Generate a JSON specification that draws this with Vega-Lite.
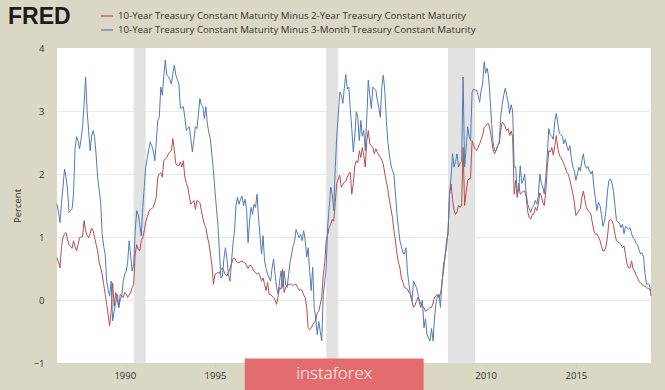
{
"$schema": "https://vega.github.io/schema/vega-lite/v6.json",
"width": 594, "height": 315,
"autosize": {"type": "none"},
"padding": {"left": 57, "top": 48, "right": 14, "bottom": 27},
"background": "#dad7c5",
"config": {"view": {"fill": "white", "stroke": null}, "font": "Open Sans"},
"title": {"text": "FRED", "anchor": "start", "frame": "group", "dx": -49, "offset": -20, "font": "Liberation Sans", "fontSize": 23, "fontWeight": "bold", "color": "#1c1c1c"},
"datasets": {
"rates": [
{"d":"1986-04","r":0.67,"b":1.52},{"d":"1986-05","r":0.60,"b":1.40},{"d":"1986-06","r":0.51,"b":1.23},{"d":"1986-07","r":0.85,"b":1.55},{"d":"1986-08","r":0.99,"b":1.80},{"d":"1986-09","r":1.05,"b":2.08},{"d":"1986-10","r":1.07,"b":1.95},{"d":"1986-11","r":0.95,"b":1.75},{"d":"1986-12","r":0.88,"b":1.39},
{"d":"1987-01","r":0.85,"b":1.42},{"d":"1987-02","r":0.82,"b":1.45},{"d":"1987-03","r":0.94,"b":1.68},{"d":"1987-04","r":0.85,"b":2.40},{"d":"1987-05","r":0.78,"b":2.59},{"d":"1987-06","r":0.88,"b":2.53},{"d":"1987-07","r":0.99,"b":2.40},{"d":"1987-08","r":1.00,"b":2.55},{"d":"1987-09","r":1.01,"b":2.75},{"d":"1987-10","r":1.26,"b":3.10},{"d":"1987-11","r":1.10,"b":3.54},{"d":"1987-12","r":1.03,"b":3.01},
{"d":"1988-01","r":0.99,"b":2.69},{"d":"1988-02","r":1.05,"b":2.37},{"d":"1988-03","r":1.14,"b":2.60},{"d":"1988-04","r":1.10,"b":2.69},{"d":"1988-05","r":0.99,"b":2.59},{"d":"1988-06","r":0.88,"b":2.30},{"d":"1988-07","r":0.78,"b":1.95},{"d":"1988-08","r":0.60,"b":1.75},{"d":"1988-09","r":0.51,"b":1.55},{"d":"1988-10","r":0.41,"b":1.04},{"d":"1988-11","r":0.25,"b":0.85},{"d":"1988-12","r":0.09,"b":0.73},
{"d":"1989-01","r":-0.07,"b":0.30},{"d":"1989-02","r":-0.25,"b":0.15},{"d":"1989-03","r":-0.41,"b":0.06},{"d":"1989-04","r":-0.18,"b":0.30},{"d":"1989-05","r":0.27,"b":-0.33},{"d":"1989-06","r":-0.10,"b":-0.18},{"d":"1989-07","r":0.12,"b":-0.05},{"d":"1989-08","r":0.05,"b":0.09},{"d":"1989-09","r":-0.12,"b":-0.12},{"d":"1989-10","r":0.09,"b":0.00},{"d":"1989-11","r":0.06,"b":0.06},{"d":"1989-12","r":0.04,"b":0.30},
{"d":"1990-01","r":0.12,"b":0.41},{"d":"1990-02","r":0.10,"b":0.46},{"d":"1990-03","r":0.04,"b":0.60},{"d":"1990-04","r":0.08,"b":0.94},{"d":"1990-05","r":0.12,"b":0.70},{"d":"1990-06","r":0.20,"b":0.46},{"d":"1990-07","r":0.25,"b":0.57},{"d":"1990-08","r":0.73,"b":1.10},{"d":"1990-09","r":0.88,"b":1.42},{"d":"1990-10","r":0.80,"b":1.36},{"d":"1990-11","r":0.78,"b":1.20},{"d":"1990-12","r":0.94,"b":1.02},
{"d":"1991-01","r":0.99,"b":1.47},{"d":"1991-02","r":1.10,"b":1.80},{"d":"1991-03","r":1.23,"b":2.11},{"d":"1991-04","r":1.32,"b":2.25},{"d":"1991-05","r":1.40,"b":2.38},{"d":"1991-06","r":1.44,"b":2.51},{"d":"1991-07","r":1.45,"b":2.45},{"d":"1991-08","r":1.47,"b":2.37},{"d":"1991-09","r":1.55,"b":2.21},{"d":"1991-10","r":1.63,"b":2.50},{"d":"1991-11","r":1.95,"b":2.85},{"d":"1991-12","r":2.00,"b":2.90},
{"d":"1992-01","r":2.02,"b":3.38},{"d":"1992-02","r":1.95,"b":3.25},{"d":"1992-03","r":2.21,"b":3.55},{"d":"1992-04","r":2.24,"b":3.81},{"d":"1992-05","r":2.26,"b":3.57},{"d":"1992-06","r":2.32,"b":3.55},{"d":"1992-07","r":2.35,"b":3.50},{"d":"1992-08","r":2.37,"b":3.43},{"d":"1992-09","r":2.56,"b":3.60},{"d":"1992-10","r":2.37,"b":3.73},{"d":"1992-11","r":2.16,"b":3.57},{"d":"1992-12","r":2.14,"b":3.50},
{"d":"1993-01","r":2.13,"b":3.43},{"d":"1993-02","r":2.19,"b":3.04},{"d":"1993-03","r":2.11,"b":3.05},{"d":"1993-04","r":2.21,"b":3.07},{"d":"1993-05","r":1.95,"b":2.90},{"d":"1993-06","r":1.85,"b":2.69},{"d":"1993-07","r":1.79,"b":2.72},{"d":"1993-08","r":1.63,"b":2.75},{"d":"1993-09","r":1.52,"b":2.55},{"d":"1993-10","r":1.55,"b":2.35},{"d":"1993-11","r":1.58,"b":2.55},{"d":"1993-12","r":1.44,"b":2.75},
{"d":"1994-01","r":1.58,"b":2.72},{"d":"1994-02","r":1.56,"b":2.95},{"d":"1994-03","r":1.55,"b":3.20},{"d":"1994-04","r":1.42,"b":3.10},{"d":"1994-05","r":1.30,"b":3.07},{"d":"1994-06","r":1.20,"b":2.88},{"d":"1994-07","r":1.15,"b":3.07},{"d":"1994-08","r":1.00,"b":2.79},{"d":"1994-09","r":0.90,"b":2.65},{"d":"1994-10","r":0.73,"b":2.55},{"d":"1994-11","r":0.55,"b":2.30},{"d":"1994-12","r":0.25,"b":2.05},
{"d":"1995-01","r":0.41,"b":1.73},{"d":"1995-02","r":0.42,"b":1.45},{"d":"1995-03","r":0.44,"b":1.20},{"d":"1995-04","r":0.42,"b":0.78},{"d":"1995-05","r":0.48,"b":0.35},{"d":"1995-06","r":0.51,"b":0.38},{"d":"1995-07","r":0.46,"b":0.65},{"d":"1995-08","r":0.40,"b":0.83},{"d":"1995-09","r":0.38,"b":0.65},{"d":"1995-10","r":0.44,"b":0.41},{"d":"1995-11","r":0.50,"b":0.30},{"d":"1995-12","r":0.57,"b":0.60},
{"d":"1996-01","r":0.65,"b":0.90},{"d":"1996-02","r":0.67,"b":1.10},{"d":"1996-03","r":0.62,"b":1.50},{"d":"1996-04","r":0.60,"b":1.63},{"d":"1996-05","r":0.59,"b":1.52},{"d":"1996-06","r":0.61,"b":1.60},{"d":"1996-07","r":0.62,"b":1.65},{"d":"1996-08","r":0.60,"b":1.50},{"d":"1996-09","r":0.59,"b":1.60},{"d":"1996-10","r":0.55,"b":1.45},{"d":"1996-11","r":0.50,"b":0.91},{"d":"1996-12","r":0.55,"b":1.25},
{"d":"1997-01","r":0.55,"b":1.47},{"d":"1997-02","r":0.50,"b":1.36},{"d":"1997-03","r":0.46,"b":1.52},{"d":"1997-04","r":0.43,"b":1.47},{"d":"1997-05","r":0.41,"b":1.68},{"d":"1997-06","r":0.43,"b":1.30},{"d":"1997-07","r":0.38,"b":1.02},{"d":"1997-08","r":0.30,"b":0.73},{"d":"1997-09","r":0.35,"b":1.02},{"d":"1997-10","r":0.25,"b":0.62},{"d":"1997-11","r":0.15,"b":0.50},{"d":"1997-12","r":0.28,"b":0.41},
{"d":"1998-01","r":0.09,"b":0.35},{"d":"1998-02","r":0.09,"b":0.30},{"d":"1998-03","r":0.06,"b":0.50},{"d":"1998-04","r":0.04,"b":0.65},{"d":"1998-05","r":0.00,"b":0.41},{"d":"1998-06","r":-0.07,"b":0.20},{"d":"1998-07","r":0.05,"b":0.09},{"d":"1998-08","r":0.20,"b":0.30},{"d":"1998-09","r":0.17,"b":0.46},{"d":"1998-10","r":0.49,"b":0.20},{"d":"1998-11","r":0.12,"b":0.46},{"d":"1998-12","r":0.20,"b":0.25},
{"d":"1999-01","r":0.22,"b":0.20},{"d":"1999-02","r":0.25,"b":0.41},{"d":"1999-03","r":0.25,"b":0.60},{"d":"1999-04","r":0.25,"b":0.73},{"d":"1999-05","r":0.23,"b":0.85},{"d":"1999-06","r":0.25,"b":0.94},{"d":"1999-07","r":0.25,"b":1.12},{"d":"1999-08","r":0.20,"b":1.05},{"d":"1999-09","r":0.15,"b":0.99},{"d":"1999-10","r":0.17,"b":1.04},{"d":"1999-11","r":0.15,"b":0.94},{"d":"1999-12","r":0.08,"b":1.10},
{"d":"2000-01","r":0.04,"b":0.95},{"d":"2000-02","r":-0.12,"b":0.68},{"d":"2000-03","r":-0.44,"b":0.83},{"d":"2000-04","r":-0.47,"b":0.45},{"d":"2000-05","r":-0.45,"b":0.15},{"d":"2000-06","r":-0.39,"b":0.52},{"d":"2000-07","r":-0.36,"b":-0.12},{"d":"2000-08","r":-0.33,"b":-0.30},{"d":"2000-09","r":-0.20,"b":-0.55},{"d":"2000-10","r":-0.18,"b":-0.34},{"d":"2000-11","r":-0.07,"b":-0.50},{"d":"2000-12","r":0.05,"b":-0.65},
{"d":"2001-01","r":0.40,"b":0.09},{"d":"2001-02","r":0.60,"b":0.30},{"d":"2001-03","r":0.95,"b":0.52},{"d":"2001-04","r":1.04,"b":1.17},{"d":"2001-05","r":1.15,"b":1.47},{"d":"2001-06","r":1.20,"b":1.79},{"d":"2001-07","r":1.28,"b":1.68},{"d":"2001-08","r":1.25,"b":1.42},{"d":"2001-09","r":1.55,"b":2.10},{"d":"2001-10","r":1.85,"b":2.60},{"d":"2001-11","r":1.92,"b":2.95},{"d":"2001-12","r":1.98,"b":3.30},
{"d":"2002-01","r":1.79,"b":3.25},{"d":"2002-02","r":1.83,"b":3.12},{"d":"2002-03","r":1.87,"b":3.35},{"d":"2002-04","r":1.88,"b":3.58},{"d":"2002-05","r":1.95,"b":3.35},{"d":"2002-06","r":2.00,"b":3.38},{"d":"2002-07","r":2.03,"b":3.04},{"d":"2002-08","r":1.68,"b":2.72},{"d":"2002-09","r":1.85,"b":2.35},{"d":"2002-10","r":2.13,"b":2.60},{"d":"2002-11","r":2.21,"b":2.99},{"d":"2002-12","r":2.18,"b":2.90},
{"d":"2003-01","r":2.37,"b":2.53},{"d":"2003-02","r":2.26,"b":2.85},{"d":"2003-03","r":2.42,"b":2.60},{"d":"2003-04","r":2.30,"b":2.69},{"d":"2003-05","r":2.11,"b":2.37},{"d":"2003-06","r":2.53,"b":2.90},{"d":"2003-07","r":2.69,"b":3.49},{"d":"2003-08","r":2.48,"b":3.25},{"d":"2003-09","r":2.45,"b":3.04},{"d":"2003-10","r":2.42,"b":3.38},{"d":"2003-11","r":2.32,"b":3.35},{"d":"2003-12","r":2.40,"b":3.33},
{"d":"2004-01","r":2.34,"b":3.17},{"d":"2004-02","r":2.30,"b":3.05},{"d":"2004-03","r":2.26,"b":2.90},{"d":"2004-04","r":2.22,"b":3.40},{"d":"2004-05","r":2.15,"b":3.57},{"d":"2004-06","r":2.00,"b":3.30},{"d":"2004-07","r":1.88,"b":2.85},{"d":"2004-08","r":1.75,"b":2.50},{"d":"2004-09","r":1.58,"b":2.30},{"d":"2004-10","r":1.45,"b":2.15},{"d":"2004-11","r":1.31,"b":2.05},{"d":"2004-12","r":1.10,"b":2.00},
{"d":"2005-01","r":0.94,"b":1.68},{"d":"2005-02","r":0.73,"b":1.36},{"d":"2005-03","r":0.60,"b":1.15},{"d":"2005-04","r":0.51,"b":0.94},{"d":"2005-05","r":0.35,"b":0.85},{"d":"2005-06","r":0.28,"b":0.75},{"d":"2005-07","r":0.20,"b":0.73},{"d":"2005-08","r":0.19,"b":0.83},{"d":"2005-09","r":0.17,"b":0.45},{"d":"2005-10","r":0.12,"b":0.25},{"d":"2005-11","r":0.09,"b":0.09},{"d":"2005-12","r":-0.02,"b":-0.02},
{"d":"2006-01","r":-0.12,"b":0.30},{"d":"2006-02","r":-0.08,"b":0.25},{"d":"2006-03","r":-0.02,"b":0.20},{"d":"2006-04","r":0.04,"b":0.10},{"d":"2006-05","r":0.00,"b":-0.05},{"d":"2006-06","r":-0.07,"b":-0.12},{"d":"2006-07","r":-0.10,"b":0.00},{"d":"2006-08","r":-0.12,"b":-0.44},{"d":"2006-09","r":-0.18,"b":-0.30},{"d":"2006-10","r":-0.16,"b":-0.55},{"d":"2006-11","r":-0.14,"b":-0.60},{"d":"2006-12","r":-0.12,"b":-0.65},
{"d":"2007-01","r":-0.12,"b":-0.45},{"d":"2007-02","r":-0.05,"b":-0.65},{"d":"2007-03","r":0.04,"b":-0.30},{"d":"2007-04","r":0.06,"b":-0.05},{"d":"2007-05","r":0.09,"b":0.05},{"d":"2007-06","r":0.04,"b":0.09},{"d":"2007-07","r":0.10,"b":-0.12},{"d":"2007-08","r":0.25,"b":0.30},{"d":"2007-09","r":0.57,"b":0.45},{"d":"2007-10","r":0.67,"b":0.70},{"d":"2007-11","r":0.94,"b":0.83},{"d":"2007-12","r":1.05,"b":1.10},
{"d":"2008-01","r":1.68,"b":1.68},{"d":"2008-02","r":1.84,"b":1.95},{"d":"2008-03","r":1.60,"b":2.32},{"d":"2008-04","r":1.42,"b":2.11},{"d":"2008-05","r":1.36,"b":2.20},{"d":"2008-06","r":1.40,"b":2.32},{"d":"2008-07","r":1.50,"b":2.11},{"d":"2008-08","r":1.47,"b":2.17},{"d":"2008-09","r":1.50,"b":2.20},{"d":"2008-10","r":2.42,"b":3.54},{"d":"2008-11","r":1.50,"b":2.11},{"d":"2008-12","r":1.70,"b":2.40},
{"d":"2009-01","r":1.90,"b":2.75},{"d":"2009-02","r":1.92,"b":2.60},{"d":"2009-03","r":1.93,"b":2.53},{"d":"2009-04","r":2.53,"b":3.30},{"d":"2009-05","r":2.45,"b":3.35},{"d":"2009-06","r":2.40,"b":3.33},{"d":"2009-07","r":2.37,"b":3.33},{"d":"2009-08","r":2.42,"b":3.25},{"d":"2009-09","r":2.48,"b":3.14},{"d":"2009-10","r":2.55,"b":3.33},{"d":"2009-11","r":2.62,"b":3.43},{"d":"2009-12","r":2.74,"b":3.78},
{"d":"2010-01","r":2.76,"b":3.60},{"d":"2010-02","r":2.80,"b":3.68},{"d":"2010-03","r":2.80,"b":3.54},{"d":"2010-04","r":2.70,"b":3.20},{"d":"2010-05","r":2.55,"b":2.80},{"d":"2010-06","r":2.37,"b":2.50},{"d":"2010-07","r":2.32,"b":2.37},{"d":"2010-08","r":2.38,"b":2.37},{"d":"2010-09","r":2.45,"b":2.45},{"d":"2010-10","r":2.48,"b":2.50},{"d":"2010-11","r":2.69,"b":2.90},{"d":"2010-12","r":2.82,"b":3.10},
{"d":"2011-01","r":2.80,"b":3.25},{"d":"2011-02","r":2.75,"b":3.36},{"d":"2011-03","r":2.69,"b":3.25},{"d":"2011-04","r":2.72,"b":3.14},{"d":"2011-05","r":2.61,"b":2.96},{"d":"2011-06","r":2.68,"b":3.10},{"d":"2011-07","r":2.59,"b":3.00},{"d":"2011-08","r":1.68,"b":2.11},{"d":"2011-09","r":1.90,"b":2.11},{"d":"2011-10","r":1.63,"b":1.68},{"d":"2011-11","r":1.85,"b":1.75},{"d":"2011-12","r":1.68,"b":2.13},
{"d":"2012-01","r":1.70,"b":1.85},{"d":"2012-02","r":1.73,"b":1.90},{"d":"2012-03","r":1.73,"b":2.00},{"d":"2012-04","r":1.63,"b":1.68},{"d":"2012-05","r":1.40,"b":1.52},{"d":"2012-06","r":1.31,"b":1.45},{"d":"2012-07","r":1.28,"b":1.39},{"d":"2012-08","r":1.36,"b":1.47},{"d":"2012-09","r":1.36,"b":1.50},{"d":"2012-10","r":1.47,"b":1.58},{"d":"2012-11","r":1.42,"b":1.52},{"d":"2012-12","r":1.52,"b":1.65},
{"d":"2013-01","r":1.70,"b":2.00},{"d":"2013-02","r":1.65,"b":1.85},{"d":"2013-03","r":1.55,"b":1.80},{"d":"2013-04","r":1.50,"b":1.68},{"d":"2013-05","r":1.72,"b":1.95},{"d":"2013-06","r":2.10,"b":2.30},{"d":"2013-07","r":2.37,"b":2.72},{"d":"2013-08","r":2.35,"b":2.62},{"d":"2013-09","r":2.42,"b":2.60},{"d":"2013-10","r":2.30,"b":2.55},{"d":"2013-11","r":2.45,"b":2.85},{"d":"2013-12","r":2.61,"b":2.96},
{"d":"2014-01","r":2.40,"b":2.80},{"d":"2014-02","r":2.30,"b":2.64},{"d":"2014-03","r":2.26,"b":2.62},{"d":"2014-04","r":2.22,"b":2.60},{"d":"2014-05","r":2.16,"b":2.48},{"d":"2014-06","r":2.10,"b":2.55},{"d":"2014-07","r":2.02,"b":2.45},{"d":"2014-08","r":2.00,"b":2.37},{"d":"2014-09","r":1.90,"b":2.45},{"d":"2014-10","r":1.80,"b":2.25},{"d":"2014-11","r":1.68,"b":2.11},{"d":"2014-12","r":1.55,"b":2.05},
{"d":"2015-01","r":1.34,"b":1.90},{"d":"2015-02","r":1.38,"b":2.00},{"d":"2015-03","r":1.42,"b":2.11},{"d":"2015-04","r":1.45,"b":2.05},{"d":"2015-05","r":1.62,"b":2.20},{"d":"2015-06","r":1.73,"b":2.32},{"d":"2015-07","r":1.60,"b":2.15},{"d":"2015-08","r":1.47,"b":2.09},{"d":"2015-09","r":1.42,"b":2.12},{"d":"2015-10","r":1.40,"b":2.05},{"d":"2015-11","r":1.36,"b":2.00},{"d":"2015-12","r":1.22,"b":2.05},
{"d":"2016-01","r":1.10,"b":1.79},{"d":"2016-02","r":1.04,"b":1.60},{"d":"2016-03","r":1.05,"b":1.42},{"d":"2016-04","r":1.00,"b":1.55},{"d":"2016-05","r":0.95,"b":1.50},{"d":"2016-06","r":0.85,"b":1.36},{"d":"2016-07","r":0.78,"b":1.17},{"d":"2016-08","r":0.78,"b":1.25},{"d":"2016-09","r":0.85,"b":1.42},{"d":"2016-10","r":1.00,"b":1.73},{"d":"2016-11","r":1.26,"b":1.90},{"d":"2016-12","r":1.28,"b":1.92},
{"d":"2017-01","r":1.26,"b":1.85},{"d":"2017-02","r":1.18,"b":1.72},{"d":"2017-03","r":1.05,"b":1.50},{"d":"2017-04","r":0.94,"b":1.26},{"d":"2017-05","r":0.92,"b":1.24},{"d":"2017-06","r":0.90,"b":1.22},{"d":"2017-07","r":0.88,"b":1.15},{"d":"2017-08","r":0.83,"b":1.20},{"d":"2017-09","r":0.86,"b":1.05},{"d":"2017-10","r":0.72,"b":1.17},{"d":"2017-11","r":0.57,"b":1.15},{"d":"2017-12","r":0.51,"b":1.12},
{"d":"2018-01","r":0.51,"b":1.15},{"d":"2018-02","r":0.62,"b":1.05},{"d":"2018-03","r":0.50,"b":0.99},{"d":"2018-04","r":0.46,"b":0.97},{"d":"2018-05","r":0.40,"b":0.90},{"d":"2018-06","r":0.35,"b":0.88},{"d":"2018-07","r":0.30,"b":0.80},{"d":"2018-08","r":0.27,"b":0.73},{"d":"2018-09","r":0.25,"b":0.75},{"d":"2018-10","r":0.22,"b":0.68},{"d":"2018-11","r":0.22,"b":0.41},{"d":"2018-12","r":0.20,"b":0.25},
{"d":"2019-01","r":0.18,"b":0.26},{"d":"2019-02","r":0.17,"b":0.24},{"d":"2019-03","r":0.16,"b":0.06}
],
"rec": [{"s":"1990-07-01","e":"1991-03-01"},{"s":"2001-03-01","e":"2001-11-01"},{"s":"2007-12-01","e":"2009-06-01"}],
"wm": [{"x1":"1996-08-25","x2":"2006-07-25","y1":-0.93,"y2":-1.46,"xm":"2001-08-10","ym":-1.18,"label":"instaforex"}]
},
"layer": [
{"data": {"name": "rec"},
 "mark": {"type": "rect", "color": "#e2e2e2"},
 "encoding": {
  "x": {"field": "s", "type": "temporal", "scale": {"type": "utc", "domain": [{"year":1986,"month":4,"date":1,"utc":true},{"year":2019,"month":3,"date":1,"utc":true}]},
        "axis": {"values": [{"year":1990,"utc":true},{"year":1995,"utc":true},{"year":2010,"utc":true},{"year":2015,"utc":true}], "format": "%Y", "title": null, "grid": false, "domain": false, "tickColor": "#d0d0d0", "tickSize": 5, "labelPadding": 2, "labelFontSize": 9.5, "labelColor": "#333333", "labelFont": "Open Sans"}},
  "x2": {"field": "e"}
 }},
{"data": {"name": "rates"},
 "transform": [{"fold": ["r", "b"], "as": ["series", "value"]}],
 "mark": {"type": "line", "strokeWidth": 1},
 "encoding": {
  "x": {"field": "d", "type": "temporal"},
  "y": {"field": "value", "type": "quantitative", "scale": {"domain": [-1, 4], "nice": false, "zero": false},
        "axis": {"values": [-1,0,1,2,3,4], "format": "d", "title": "Percent", "titleFontWeight": "normal", "titleFontSize": 9.5, "titleColor": "#333333", "titleFont": "Open Sans", "titlePadding": 11, "labelFontSize": 9.5, "labelColor": "#333333", "labelFont": "Open Sans", "labelPadding": 13, "ticks": false, "domain": false, "gridColor": "#e8e8e8", "gridOpacity": {"condition": {"test": "datum.value == 4 || datum.value == -1", "value": 0}, "value": 1}}},
  "color": {"field": "series", "type": "nominal", "sort": ["r", "b"],
        "scale": {"domain": ["r", "b"], "range": ["#b84e4b", "#4f7bb8"]},
        "legend": {"orient": "none", "legendX": 43, "legendY": -39, "title": null, "direction": "vertical", "symbolType": "stroke", "symbolSize": 144, "symbolStrokeWidth": 1.2, "labelFontSize": 9.7, "labelFont": "Open Sans", "labelColor": "#333333", "labelLimit": 0, "labelOffset": 4, "rowPadding": 2,
          "labelExpr": "datum.label == 'r' ? '10-Year Treasury Constant Maturity Minus 2-Year Treasury Constant Maturity' : '10-Year Treasury Constant Maturity Minus 3-Month Treasury Constant Maturity'"}}
 }},
{"mark": {"type": "rule", "color": "#000000", "strokeWidth": 2},
 "encoding": {"y": {"datum": 0}}},
{"data": {"name": "wm"},
 "mark": {"type": "rect", "color": "#e36c6e", "clip": false},
 "encoding": {"x": {"field": "x1", "type": "temporal"}, "x2": {"field": "x2"}, "y": {"field": "y1", "type": "quantitative"}, "y2": {"field": "y2"}}},
{"data": {"name": "wm"},
 "mark": {"type": "text", "color": "#ffffff", "font": "Open Sans", "fontSize": 17, "fontWeight": 300, "clip": false, "baseline": "middle", "align": "center"},
 "encoding": {"x": {"field": "xm", "type": "temporal"}, "y": {"field": "ym", "type": "quantitative"}, "text": {"field": "label"}}}
]
}
